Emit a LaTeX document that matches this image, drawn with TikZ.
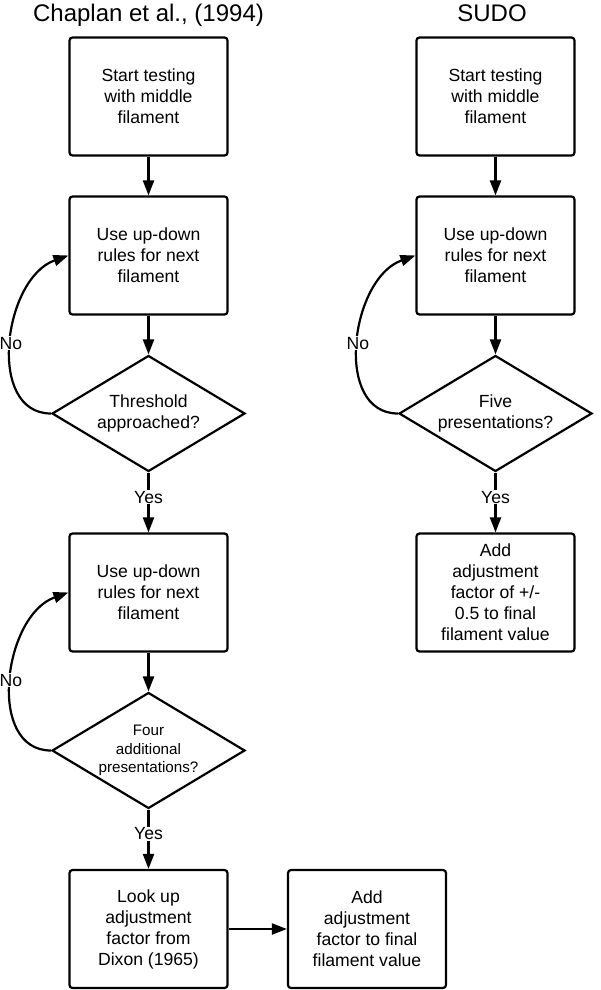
\documentclass[tikz,border=0pt]{standalone}
\usepackage{fontspec}
\setmainfont{Liberation Sans}
\usetikzlibrary{shapes.geometric,arrows.meta}
\tikzset{
  base/.style={line width=2.2pt, draw=black},
  stepbox/.style={base, rectangle, rounded corners=3pt, minimum width=158pt, minimum height=118pt, inner sep=0pt, align=center, font=\fontsize{17.6}{21}\selectfont},
  decision/.style={base, diamond, aspect=1.66, minimum width=193pt, minimum height=116pt, inner sep=0pt, align=center, font=\fontsize{17.6}{21}\selectfont},
  arr/.style={line width=2.2pt, -{Triangle[length=15pt,width=11pt]}},
  lbl/.style={font=\fontsize{17.6}{21}\selectfont, fill=white, inner sep=1pt},
  ttl/.style={font=\fontsize{24}{28}\selectfont, anchor=base, inner sep=0pt}
}
\begin{document}
\begin{tikzpicture}[x=1pt,y=-1pt]
\useasboundingbox (0,0) rectangle (600,990);
% titles
\node[ttl] (t1) at (148.5,21.7) {Chaplan et al., (1994)};
\node[ttl] (t2) at (492,21.7) {SUDO};
% left column
\node[stepbox] (b1) at (148.5,96.5) {Start testing\\with middle\\filament};
\node[stepbox] (b2) at (148.5,255.5) {Use up-down\\rules for next\\filament};
\node[decision] (d1) at (148.5,413.5) {Threshold\\approached?};
\node[stepbox] (b3) at (148.5,592.5) {Use up-down\\rules for next\\filament};
\node[decision, font=\fontsize{15.2}{18.3}\selectfont] (d2) at (148.5,750.5) {Four\\additional\\presentations?};
\node[stepbox] (b4) at (148.5,929) {Look up\\adjustment\\factor from\\Dixon (1965)};
\node[stepbox] (b5) at (367,929) {Add\\adjustment\\factor to final\\filament value};
% right column
\node[stepbox] (r1) at (495.5,96.5) {Start testing\\with middle\\filament};
\node[stepbox] (r2) at (495.5,255.5) {Use up-down\\rules for next\\filament};
\node[decision] (rd) at (495.5,413.5) {Five\\presentations?};
\node[stepbox] (r3) at (495.5,592.5) {Add\\adjustment\\factor of +/-\\0.5 to final\\filament value};
% connectors left
\draw[arr] (b1) -- (b2);
\draw[arr] (b2) -- (d1);
\draw[arr] (d1) -- node[lbl, pos=0.41] (y1) {Yes} (b3);
\draw[arr] (b3) -- (d2);
\draw[arr] (d2) -- node[lbl, pos=0.41] (y2) {Yes} (b4);
\draw[arr] (b4) -- (b5);
\draw[arr] (d1.west) .. controls +(-65,0) and +(-65,23) .. node[lbl, pos=0.5] (n1) {No} (b2.west);
\draw[arr] (d2.west) .. controls +(-65,0) and +(-65,23) .. node[lbl, pos=0.5] (n2) {No} (b3.west);
% connectors right
\draw[arr] (r1) -- (r2);
\draw[arr] (r2) -- (rd);
\draw[arr] (rd) -- node[lbl, pos=0.41] (y3) {Yes} (r3);
\draw[arr] (rd.west) .. controls +(-65,0) and +(-65,23) .. node[lbl, pos=0.5] (n3) {No} (r2.west);
\end{tikzpicture}
\end{document}
